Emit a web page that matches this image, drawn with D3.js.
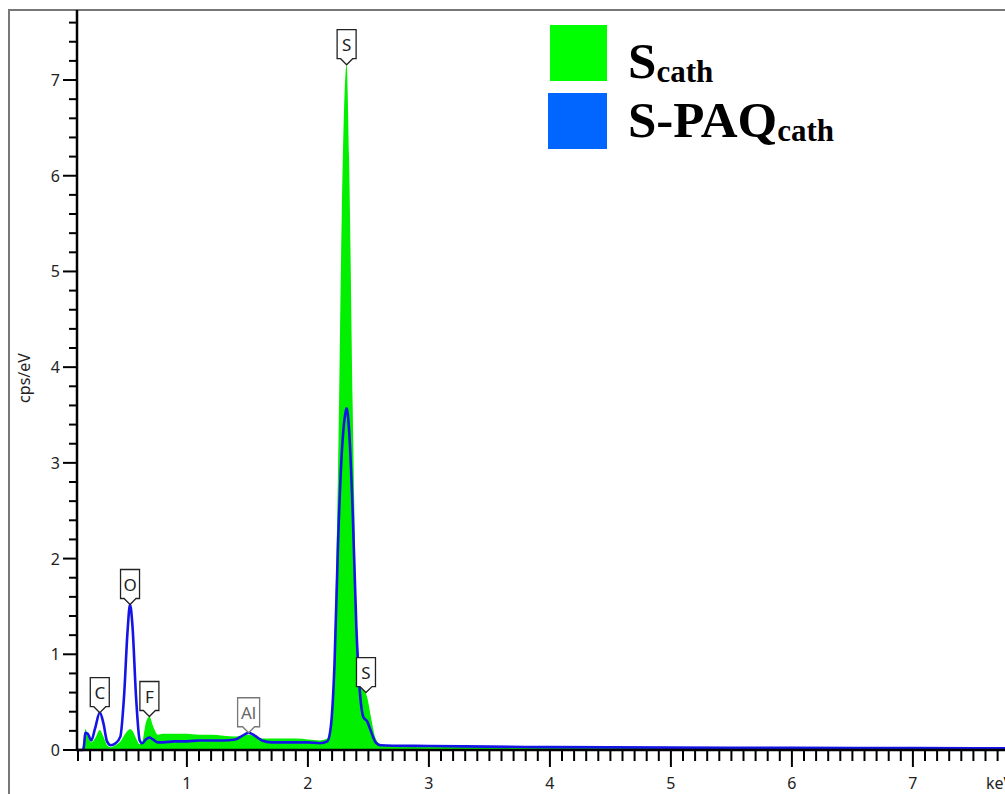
<!DOCTYPE html>
<html>
<head>
<meta charset="utf-8">
<script src="https://cdn.jsdelivr.net/npm/d3@7"></script>
<style>
  body { margin: 0; background: #fff; }
  svg { display: block; }
</style>
</head>
<body>
<svg width="1005" height="794"></svg>
<script>
// energy grid (keV)
var energy = [0.10, 0.14, 0.15, 0.16, 0.18, 0.21, 0.24, 0.28, 0.31, 0.34, 0.37, 0.41, 0.45, 0.48, 0.51, 0.53, 0.55, 0.58,
              0.61, 0.63, 0.66, 0.69, 0.72, 0.76, 0.80, 0.90, 1.00, 1.10, 1.20, 1.30, 1.40, 1.46, 1.51, 1.56, 1.62,
              1.70, 1.80, 1.90, 2.00, 2.10, 2.16, 2.19, 2.22, 2.25, 2.28, 2.31, 2.32, 2.34, 2.37, 2.40, 2.43, 2.46,
              2.49, 2.52, 2.56, 2.60, 2.70, 3.00, 3.50, 4.00, 5.00, 6.00, 7.00, 8.00];
// S cathode (green fill)
var sCath = [0, 0, 0.05, 0.22, 0.15, 0.08, 0.12, 0.21, 0.14, 0.05, 0.03, 0.05, 0.09, 0.15, 0.20, 0.22, 0.20, 0.12,
             0.06, 0.08, 0.28, 0.35, 0.25, 0.16, 0.17, 0.17, 0.17, 0.16, 0.16, 0.15, 0.14, 0.15, 0.16, 0.14, 0.12,
             0.12, 0.12, 0.12, 0.11, 0.10, 0.12, 0.30, 1.10, 3.00, 5.60, 7.05, 7.16, 6.20, 3.60, 1.50, 0.85, 0.65,
             0.55, 0.35, 0.12, 0.06, 0.045, 0.04, 0.038, 0.035, 0.03, 0.025, 0.02, 0.018];
// S-PAQ cathode (blue line)
var sPaqCath = [0, 0, 0.05, 0.18, 0.17, 0.10, 0.22, 0.39, 0.28, 0.09, 0.05, 0.07, 0.14, 0.55, 1.25, 1.52, 1.30, 0.55,
                0.10, 0.07, 0.11, 0.13, 0.11, 0.08, 0.08, 0.09, 0.09, 0.10, 0.10, 0.10, 0.11, 0.15, 0.18, 0.15, 0.10,
                0.08, 0.08, 0.08, 0.08, 0.07, 0.09, 0.25, 0.90, 2.20, 3.10, 3.52, 3.57, 3.35, 2.50, 1.30, 0.60, 0.34,
                0.30, 0.20, 0.08, 0.05, 0.045, 0.042, 0.035, 0.03, 0.025, 0.022, 0.02, 0.018];

var peakNames = ["C", "O", "F", "Al", "S", "S"];
var peakKeV = [0.28, 0.53, 0.69, 1.51, 2.32, 2.48];
var peakVal = [0.39, 1.52, 0.35, 0.18, 7.16, 0.60];

var legendNames = ["S", "S-PAQ"];
var legendSubs = ["cath", "cath"];
var legendColors = ["#00ff00", "#0066ff"];

var svg = d3.select("svg");

// outer frame
svg.append("rect")
   .attr("x", 9).attr("y", 10)
   .attr("width", 1100).attr("height", 900)
   .attr("fill", "none")
   .attr("stroke", "#777")
   .attr("stroke-width", 2);

var x = d3.scaleLinear().domain([0.1, 8]).range([78, 78 + 7.9 * 121]);
var y = d3.scaleLinear().domain([0, 740 / 95.71]).range([750, 10]);

var pts = energy.map(function(e, i) { return {e: e, g: sCath[i], b: sPaqCath[i]}; });

var area = d3.area()
    .x(function(d) { return x(d.e); })
    .y0(y(0))
    .y1(function(d) { return y(d.g); })
    .curve(d3.curveMonotoneX);

var line = d3.line()
    .x(function(d) { return x(d.e); })
    .y(function(d) { return y(d.b); })
    .curve(d3.curveMonotoneX);

svg.append("path")
   .datum(pts)
   .attr("d", area)
   .attr("fill", "#00f000");

svg.append("path")
   .datum(pts)
   .attr("d", line)
   .attr("fill", "none")
   .attr("stroke", "#1414e6")
   .attr("stroke-width", 2.6);

// y axis
var yTicks = d3.range(0, 7.75, 0.2);
var yAxis = svg.append("g").attr("font-family", "Noto Sans, sans-serif");
yAxis.append("line")
     .attr("x1", 77).attr("x2", 77)
     .attr("y1", 10).attr("y2", 751)
     .attr("stroke", "#000").attr("stroke-width", 2.5);
yAxis.selectAll(".yt").data(yTicks).enter().append("line")
     .attr("x1", function(d) { return Math.abs(d - Math.round(d)) < 1e-6 ? 63 : 69; })
     .attr("x2", 77)
     .attr("y1", function(d) { return y(d); })
     .attr("y2", function(d) { return y(d); })
     .attr("stroke", "#000").attr("stroke-width", 2);
yAxis.selectAll(".yl").data(d3.range(0, 8)).enter().append("text")
     .attr("x", 60)
     .attr("y", function(d) { return y(d) + 6; })
     .attr("text-anchor", "end")
     .attr("font-size", 16)
     .attr("fill", "#222")
     .text(function(d) { return d; });
yAxis.append("text")
     .attr("transform", "translate(30,378) rotate(-90)")
     .attr("text-anchor", "middle")
     .attr("font-size", 16)
     .attr("fill", "#222")
     .text("cps/eV");

// x axis
var xTicks = d3.range(1, 80).map(function(d) { return d / 10; });
var xAxis = svg.append("g").attr("font-family", "Noto Sans, sans-serif");
xAxis.append("line")
     .attr("x1", 76).attr("x2", 1005)
     .attr("y1", 750).attr("y2", 750)
     .attr("stroke", "#000").attr("stroke-width", 2.5);
xAxis.selectAll(".xt").data(xTicks).enter().append("line")
     .attr("x1", function(d) { return x(d); })
     .attr("x2", function(d) { return x(d); })
     .attr("y1", 750)
     .attr("y2", function(d) { return Math.abs(d - Math.round(d)) < 1e-6 ? 767 : 761; })
     .attr("stroke", "#000").attr("stroke-width", 2);
xAxis.selectAll(".xl").data(d3.range(1, 8)).enter().append("text")
     .attr("x", function(d) { return x(d); })
     .attr("y", 789)
     .attr("text-anchor", "middle")
     .attr("font-size", 16)
     .attr("fill", "#222")
     .text(function(d) { return d; });
xAxis.append("text")
     .attr("x", 986).attr("y", 789)
     .attr("font-size", 16)
     .attr("fill", "#222")
     .text("keV");

// peak labels
var lab = svg.selectAll(".peak").data(peakNames).enter().append("g")
     .attr("transform", function(d, i) { return "translate(" + x(peakKeV[i]) + "," + y(peakVal[i]) + ")"; });
lab.append("path")
   .attr("d", function(d) {
       var w = d.length > 1 ? 22 : 19, h = 29, a = 6;
       return "M0,0 L" + (-a) + "," + (-a) + " L" + (-w / 2) + "," + (-a) + " L" + (-w / 2) + "," + (-a - h) +
              " L" + (w / 2) + "," + (-a - h) + " L" + (w / 2) + "," + (-a) + " L" + a + "," + (-a) + " Z";
   })
   .attr("fill", "#fff")
   .attr("stroke", function(d) { return d === "Al" ? "#777" : "#222"; })
   .attr("stroke-width", 1.3);
lab.append("text")
   .attr("y", -14)
   .attr("text-anchor", "middle")
   .attr("font-family", "Noto Sans, sans-serif")
   .attr("font-size", 17)
   .attr("fill", function(d) { return d === "Al" ? "#666" : "#222"; })
   .text(function(d) { return d; });

// legend
var leg = svg.selectAll(".leg").data(legendNames).enter().append("g");
leg.append("rect")
   .attr("x", function(d, i) { return i === 0 ? 550 : 548; })
   .attr("y", function(d, i) { return i === 0 ? 25 : 93; })
   .attr("width", function(d, i) { return i === 0 ? 57 : 59; })
   .attr("height", 56)
   .attr("fill", function(d, i) { return legendColors[i]; });
var lt = leg.append("text")
   .attr("x", 628)
   .attr("y", function(d, i) { return i === 0 ? 78 : 137; })
   .attr("font-family", "Liberation Serif, Times New Roman, serif")
   .attr("font-weight", "bold")
   .attr("font-size", 51);
lt.append("tspan").text(function(d) { return d; });
lt.append("tspan")
  .attr("font-size", 31)
  .attr("dy", 4)
  .text(function(d, i) { return legendSubs[i]; });
</script>
</body>
</html>
